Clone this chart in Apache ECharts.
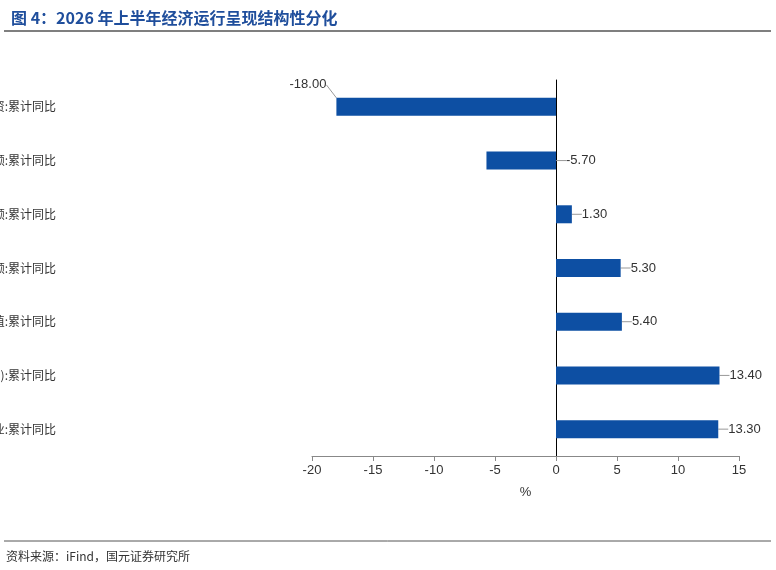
<!DOCTYPE html><html><head><meta charset="utf-8"><script src="https://cdn.jsdelivr.net/npm/echarts@6/dist/echarts.min.js"></script>
<style>body{margin:0}#c{width:776px;height:570px}</style></head><body><div id="c"></div><script>
const categories=["房地产开发投资:累计同比","固定资产投资(不含农户)完成额:累计同比","社会消费品零售总额:累计同比","服务零售额:累计同比","规模以上工业增加值:累计同比","出口总值(人民币计价):累计同比","规模以上工业增加值:高技术制造业:累计同比"];
const values=[-18.00,-5.70,1.30,5.30,5.40,13.40,13.30];
const xTicks=[-20,-15,-10,-5,0,5,10,15];
const font='"Noto Sans CJK SC", sans-serif';
const c=echarts.init(document.getElementById('c'));
c.setOption({
 animation:false,
 title:{text:'图 4：2026 年上半年经济运行呈现结构性分化',left:6,top:5,textStyle:{color:'#1f4e9c',fontSize:16,fontWeight:'bold',fontFamily:font}},
 graphic:[{type:'line',shape:{x1:4,y1:31,x2:771,y2:31},style:{stroke:'#555',lineWidth:1.5}},
  {type:'line',shape:{x1:4,y1:541,x2:771,y2:541},style:{stroke:'#555',lineWidth:1}},
  {type:'text',left:6,top:550,style:{text:'资料来源：iFind，国元证券研究所',fill:'#333',font:'12px '+font}}],
 grid:{left:312,right:37,top:80,bottom:114,containLabel:false,outerBoundsMode:'none'},
 xAxis:{type:'value',min:-20,max:15,interval:5,name:'%',nameLocation:'middle',nameGap:30,nameTextStyle:{color:'#333',fontSize:13},
  axisLine:{show:true,lineStyle:{color:'#888'}},axisTick:{show:true,lineStyle:{color:'#888'}},splitLine:{show:false},
  axisLabel:{color:'#333',fontSize:13,formatter:v=>xTicks.includes(v)?String(v):''}},
 yAxis:{type:'category',data:categories,inverse:true,axisLine:{onZero:true,lineStyle:{color:'#000'}},axisTick:{show:false},
  axisLabel:{color:'#333',fontSize:12,fontFamily:font,margin:256}},
 series:[{type:'bar',barWidth:18,itemStyle:{color:'#0d4fa3'},
  data:values.map((v,i)=>i===0?{value:v,label:{position:'left'}}:v),
  labelLayout:p=>p.dataIndex===0?{dx:0,dy:-22}:{},
  labelLine:{show:true,lineStyle:{color:'#999'}},
  label:{show:true,color:'#333',fontSize:13,formatter:p=>p.value.toFixed(2),position:'right',distance:10},
 }]
});
</script></body></html>
